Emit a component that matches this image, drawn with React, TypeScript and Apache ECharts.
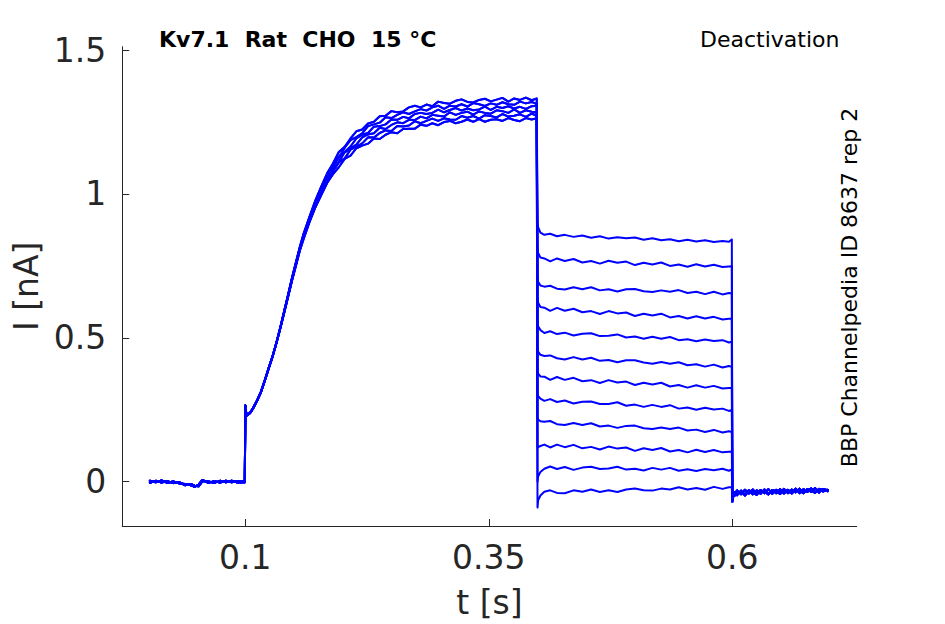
import React, { useEffect, useRef } from "react";
import * as echarts from "echarts";

const BLUE = "#0000ff";
const AXIS = "#262626";
const FONT = '"DejaVu Sans", sans-serif';

const X_TICKS = [0.1, 0.35, 0.6];
const Y_TICKS = [0, 0.5, 1, 1.5];

// holding segment before the step (t in s, I in nA)
const PRE_T = [0.002, 0.008, 0.014, 0.02, 0.026, 0.032, 0.038, 0.044, 0.048, 0.052, 0.056, 0.062, 0.068, 0.074, 0.08, 0.086, 0.092, 0.0995];
const PRE_A = [0.003, -0.002, 0.004, -0.004, 0.001, -0.006, -0.008, -0.012, -0.018, -0.01, 0.006, -0.004, 0.002, -0.003, 0.003, -0.002, 0.002, 0.001];
const PRE_B = [-0.004, 0.003, -0.003, 0.002, -0.005, -0.002, -0.012, -0.008, -0.014, -0.016, 0.002, 0.001, -0.004, 0.003, -0.002, 0.003, -0.003, -0.002];

// activation step
const ACT_T = [0.1, 0.1006, 0.102, 0.105, 0.108, 0.112, 0.116, 0.12, 0.124, 0.128, 0.132, 0.136, 0.14, 0.144, 0.148, 0.152, 0.156,
  0.16, 0.166, 0.172, 0.178, 0.184, 0.19, 0.196, 0.202, 0.208, 0.214, 0.22, 0.226, 0.232, 0.238, 0.244, 0.25, 0.256, 0.262, 0.268, 0.274,
  0.28, 0.286, 0.292, 0.298, 0.304, 0.31, 0.316, 0.322, 0.328, 0.334, 0.34, 0.346, 0.352, 0.358, 0.364, 0.37, 0.376, 0.382, 0.388, 0.394, 0.3992];
const ACT_1 = [0.265, 0.242, 0.232, 0.241, 0.256, 0.282, 0.313, 0.353, 0.396, 0.437, 0.485, 0.538, 0.595, 0.652, 0.71, 0.764, 0.817,
  0.864, 0.922, 0.979, 1.026, 1.072, 1.106, 1.146, 1.164, 1.193, 1.218, 1.224, 1.245, 1.251, 1.27, 1.272, 1.288, 1.284, 1.287, 1.301, 1.307,
  1.301, 1.311, 1.305, 1.321, 1.316, 1.314, 1.324, 1.329, 1.32, 1.318, 1.327, 1.331, 1.322, 1.328, 1.334, 1.321, 1.332, 1.327, 1.335, 1.326, 1.332];
const ACT_2 = [0.266, 0.244, 0.234, 0.24, 0.256, 0.282, 0.312, 0.352, 0.395, 0.436, 0.484, 0.537, 0.593, 0.65, 0.708, 0.761, 0.814,
  0.859, 0.92, 0.971, 1.022, 1.061, 1.103, 1.127, 1.161, 1.187, 1.198, 1.211, 1.236, 1.242, 1.248, 1.267, 1.264, 1.275, 1.284, 1.278, 1.287,
  1.295, 1.29, 1.301, 1.307, 1.296, 1.307, 1.304, 1.312, 1.304, 1.316, 1.312, 1.306, 1.315, 1.31, 1.319, 1.312, 1.31, 1.321, 1.315, 1.32, 1.313];
const ACT_3 = [0.264, 0.24, 0.23, 0.239, 0.256, 0.282, 0.312, 0.352, 0.395, 0.436, 0.484, 0.536, 0.592, 0.648, 0.706, 0.759, 0.811,
  0.859, 0.913, 0.967, 1.017, 1.055, 1.093, 1.129, 1.146, 1.165, 1.193, 1.206, 1.212, 1.234, 1.236, 1.242, 1.259, 1.258, 1.268, 1.263, 1.278,
  1.282, 1.278, 1.282, 1.293, 1.284, 1.292, 1.299, 1.29, 1.297, 1.291, 1.294, 1.304, 1.292, 1.303, 1.299, 1.305, 1.297, 1.303, 1.296, 1.305, 1.307];
const ACT_4 = [0.265, 0.243, 0.233, 0.24, 0.255, 0.281, 0.311, 0.351, 0.394, 0.435, 0.483, 0.535, 0.591, 0.647, 0.704, 0.757, 0.809,
  0.852, 0.911, 0.965, 1.007, 1.051, 1.083, 1.112, 1.145, 1.158, 1.172, 1.197, 1.207, 1.211, 1.23, 1.226, 1.24, 1.249, 1.246, 1.258, 1.257,
  1.269, 1.263, 1.275, 1.272, 1.269, 1.284, 1.275, 1.282, 1.286, 1.276, 1.287, 1.282, 1.279, 1.291, 1.288, 1.282, 1.294, 1.282, 1.291, 1.286, 1.284];
const ACT_5 = [0.263, 0.241, 0.231, 0.239, 0.255, 0.281, 0.311, 0.351, 0.394, 0.435, 0.483, 0.534, 0.589, 0.645, 0.702, 0.754, 0.806,
  0.851, 0.907, 0.956, 1.004, 1.042, 1.079, 1.11, 1.124, 1.154, 1.165, 1.176, 1.197, 1.196, 1.212, 1.221, 1.219, 1.236, 1.235, 1.238, 1.253,
  1.246, 1.254, 1.262, 1.254, 1.263, 1.259, 1.258, 1.271, 1.265, 1.271, 1.262, 1.274, 1.271, 1.266, 1.278, 1.269, 1.272, 1.277, 1.268, 1.279, 1.273];
const ACT_6 = [0.264, 0.241, 0.231, 0.239, 0.254, 0.28, 0.31, 0.35, 0.393, 0.434, 0.482, 0.533, 0.588, 0.643, 0.699, 0.751, 0.803,
  0.845, 0.903, 0.954, 0.996, 1.038, 1.069, 1.093, 1.122, 1.133, 1.159, 1.168, 1.175, 1.193, 1.191, 1.206, 1.215, 1.211, 1.226, 1.227, 1.227,
  1.241, 1.237, 1.246, 1.239, 1.25, 1.254, 1.246, 1.251, 1.259, 1.251, 1.26, 1.251, 1.258, 1.26, 1.254, 1.264, 1.257, 1.253, 1.264, 1.259, 1.263];

// deactivation (tail) steps
const TAIL_T = [0.4, 0.4006, 0.403, 0.407, 0.413, 0.42, 0.428, 0.437, 0.446, 0.455, 0.464, 0.473, 0.482, 0.491, 0.5, 0.509, 0.518, 0.527, 0.536, 0.545, 0.554, 0.563, 0.572, 0.581, 0.59, 0.5965, 0.5995];
const TAIL_1 = [0.905, 0.885, 0.866, 0.858, 0.862, 0.853, 0.858, 0.851, 0.856, 0.848, 0.853, 0.845, 0.85, 0.846, 0.849, 0.841, 0.846, 0.839, 0.843, 0.836, 0.841, 0.835, 0.839, 0.833, 0.837, 0.834, 0.842];
const TAIL_2 = [0.815, 0.795, 0.779, 0.776, 0.766, 0.776, 0.767, 0.774, 0.762, 0.767, 0.758, 0.768, 0.761, 0.765, 0.753, 0.761, 0.755, 0.762, 0.75, 0.755, 0.747, 0.756, 0.748, 0.754, 0.746, 0.748, 0.749];
const TAIL_3 = [0.712, 0.695, 0.682, 0.678, 0.681, 0.671, 0.668, 0.676, 0.669, 0.676, 0.665, 0.669, 0.661, 0.669, 0.67, 0.662, 0.659, 0.665, 0.66, 0.666, 0.656, 0.66, 0.652, 0.66, 0.651, 0.656, 0.654];
const TAIL_4 = [0.64, 0.622, 0.607, 0.605, 0.594, 0.604, 0.594, 0.601, 0.589, 0.593, 0.583, 0.593, 0.585, 0.588, 0.576, 0.584, 0.578, 0.584, 0.571, 0.576, 0.567, 0.575, 0.567, 0.573, 0.564, 0.566, 0.566];
const TAIL_5 = [0.556, 0.54, 0.527, 0.517, 0.523, 0.513, 0.518, 0.508, 0.514, 0.516, 0.506, 0.507, 0.512, 0.501, 0.505, 0.497, 0.504, 0.497, 0.503, 0.492, 0.495, 0.488, 0.494, 0.489, 0.492, 0.484, 0.487];
const TAIL_6 = [0.468, 0.452, 0.441, 0.437, 0.439, 0.429, 0.425, 0.433, 0.425, 0.431, 0.42, 0.423, 0.415, 0.422, 0.422, 0.414, 0.41, 0.416, 0.41, 0.415, 0.405, 0.408, 0.4, 0.407, 0.397, 0.402, 0.399];
const TAIL_7 = [0.39, 0.376, 0.366, 0.365, 0.354, 0.364, 0.354, 0.361, 0.349, 0.353, 0.343, 0.353, 0.345, 0.348, 0.336, 0.344, 0.338, 0.344, 0.331, 0.336, 0.327, 0.335, 0.327, 0.333, 0.324, 0.326, 0.326];
const TAIL_8 = [0.31, 0.298, 0.289, 0.281, 0.287, 0.277, 0.282, 0.272, 0.278, 0.279, 0.27, 0.27, 0.276, 0.264, 0.268, 0.26, 0.267, 0.26, 0.266, 0.254, 0.258, 0.25, 0.257, 0.251, 0.254, 0.246, 0.249];
const TAIL_9 = [0.226, 0.216, 0.21, 0.208, 0.211, 0.2, 0.197, 0.204, 0.197, 0.203, 0.192, 0.195, 0.187, 0.194, 0.195, 0.186, 0.183, 0.188, 0.183, 0.188, 0.178, 0.181, 0.173, 0.18, 0.171, 0.175, 0.173];
const TAIL_10 = [0.118, 0.12, 0.124, 0.129, 0.119, 0.129, 0.12, 0.128, 0.116, 0.121, 0.112, 0.122, 0.115, 0.119, 0.107, 0.116, 0.11, 0.117, 0.105, 0.11, 0.102, 0.111, 0.103, 0.11, 0.102, 0.104, 0.105];
const TAIL_11 = [0.0, 0.018, 0.034, 0.045, 0.053, 0.044, 0.051, 0.041, 0.049, 0.052, 0.044, 0.046, 0.052, 0.042, 0.045, 0.039, 0.048, 0.042, 0.048, 0.038, 0.043, 0.037, 0.044, 0.04, 0.045, 0.038, 0.043];
const TAIL_12 = [-0.09, -0.065, -0.048, -0.035, -0.03, -0.039, -0.04, -0.03, -0.035, -0.027, -0.036, -0.03, -0.036, -0.027, -0.024, -0.03, -0.031, -0.024, -0.027, -0.019, -0.027, -0.022, -0.028, -0.018, -0.025, -0.019, -0.019];

// return to holding
const POST_T = [0.6, 0.6005, 0.602, 0.605, 0.609, 0.613, 0.617, 0.621, 0.625, 0.629, 0.633, 0.637, 0.641, 0.645, 0.649, 0.653, 0.657, 0.661, 0.665, 0.669, 0.673, 0.677, 0.681, 0.685, 0.689, 0.693, 0.698];
const POST_A = [-0.062, -0.05, -0.042, -0.03, -0.044, -0.028, -0.041, -0.027, -0.043, -0.029, -0.04, -0.026, -0.042, -0.028, -0.038, -0.025, -0.04, -0.027, -0.037, -0.024, -0.039, -0.026, -0.036, -0.022, -0.038, -0.025, -0.03];
const POST_B = [-0.07, -0.056, -0.036, -0.047, -0.031, -0.045, -0.029, -0.044, -0.03, -0.042, -0.027, -0.043, -0.029, -0.04, -0.026, -0.041, -0.028, -0.038, -0.024, -0.04, -0.026, -0.036, -0.023, -0.038, -0.025, -0.034, -0.028];
const POST_C = [-0.066, -0.045, -0.05, -0.038, -0.034, -0.048, -0.033, -0.036, -0.046, -0.031, -0.035, -0.044, -0.03, -0.033, -0.043, -0.029, -0.032, -0.041, -0.027, -0.031, -0.04, -0.026, -0.03, -0.039, -0.025, -0.029, -0.033];

const TAILS = [TAIL_1, TAIL_2, TAIL_3, TAIL_4, TAIL_5, TAIL_6, TAIL_7, TAIL_8, TAIL_9, TAIL_10, TAIL_11, TAIL_12];
const PRES = [PRE_A, PRE_B];
const ACTS = [ACT_1, ACT_2, ACT_3, ACT_4, ACT_5, ACT_6];
const POSTS = [POST_A, POST_B, POST_C];

const pairs = (t: number[], v: number[]) => t.map((x, i) => [x, v[i]]);

export default function App() {
  const ref = useRef<HTMLDivElement>(null);
  useEffect(() => {
    const chart = echarts.init(ref.current!, null, { renderer: "svg" });
    const series = TAILS.map((tail, i) => ({
      type: "line",
      data: [
        ...pairs(PRE_T, PRES[i % 2]),
        ...pairs(ACT_T, ACTS[i % 6]),
        ...pairs(TAIL_T, tail),
        ...pairs(POST_T, POSTS[i % 3]),
      ],
      showSymbol: false,
      symbol: "none",
      silent: true,
      lineStyle: { color: BLUE, width: 2, join: "round", cap: "round" },
    }));
    chart.setOption({
      animation: false,
      backgroundColor: "#ffffff",
      grid: { left: 122.3, right: 88.3, top: 46.7, bottom: 98 },
      xAxis: {
        type: "value",
        min: -0.0263,
        max: 0.7277,
        name: "t [s]",
        nameLocation: "middle",
        nameGap: 60,
        nameTextStyle: { fontSize: 33, color: AXIS, fontFamily: FONT },
        axisLine: { show: true, onZero: false, lineStyle: { color: AXIS, width: 1 } },
        axisTick: { show: true, inside: true, length: 7, customValues: X_TICKS, lineStyle: { color: AXIS } },
        axisLabel: {
          customValues: X_TICKS,
          formatter: (v: number) => String(v),
          fontSize: 33,
          color: AXIS,
          fontFamily: FONT,
          margin: 15,
        },
        splitLine: { show: false },
      },
      yAxis: {
        type: "value",
        min: -0.154,
        max: 1.512,
        name: "I [nA]",
        nameLocation: "middle",
        nameGap: 77,
        nameTextStyle: { fontSize: 33, color: AXIS, fontFamily: FONT },
        axisLine: { show: true, onZero: false, lineStyle: { color: AXIS, width: 1 } },
        axisTick: { show: true, inside: true, length: 7, customValues: Y_TICKS, lineStyle: { color: AXIS } },
        axisLabel: {
          customValues: Y_TICKS,
          formatter: (v: number) => String(v),
          fontSize: 33,
          color: AXIS,
          fontFamily: FONT,
          margin: 16,
        },
        splitLine: { show: false },
      },
      graphic: [
        {
          type: "text",
          x: 159,
          y: 39,
          style: { text: "Kv7.1  Rat  CHO  15 °C", font: `bold 22px ${FONT}`, fill: "#000", verticalAlign: "middle" },
        },
        {
          type: "text",
          x: 700,
          y: 39,
          style: { text: "Deactivation", font: `22px ${FONT}`, fill: "#000", verticalAlign: "middle" },
        },
        {
          type: "text",
          x: 849,
          y: 287.5,
          rotation: Math.PI / 2,
          style: { text: "BBP Channelpedia ID 8637 rep 2", font: `22px ${FONT}`, fill: "#000", align: "center", verticalAlign: "middle" },
        },
      ],
      series,
    });
    return () => chart.dispose();
  }, []);
  return (
    <div
      ref={ref}
      style={{ position: "fixed", left: 0, top: 0, width: 945, height: 624, background: "#fff" }}
    />
  );
}
